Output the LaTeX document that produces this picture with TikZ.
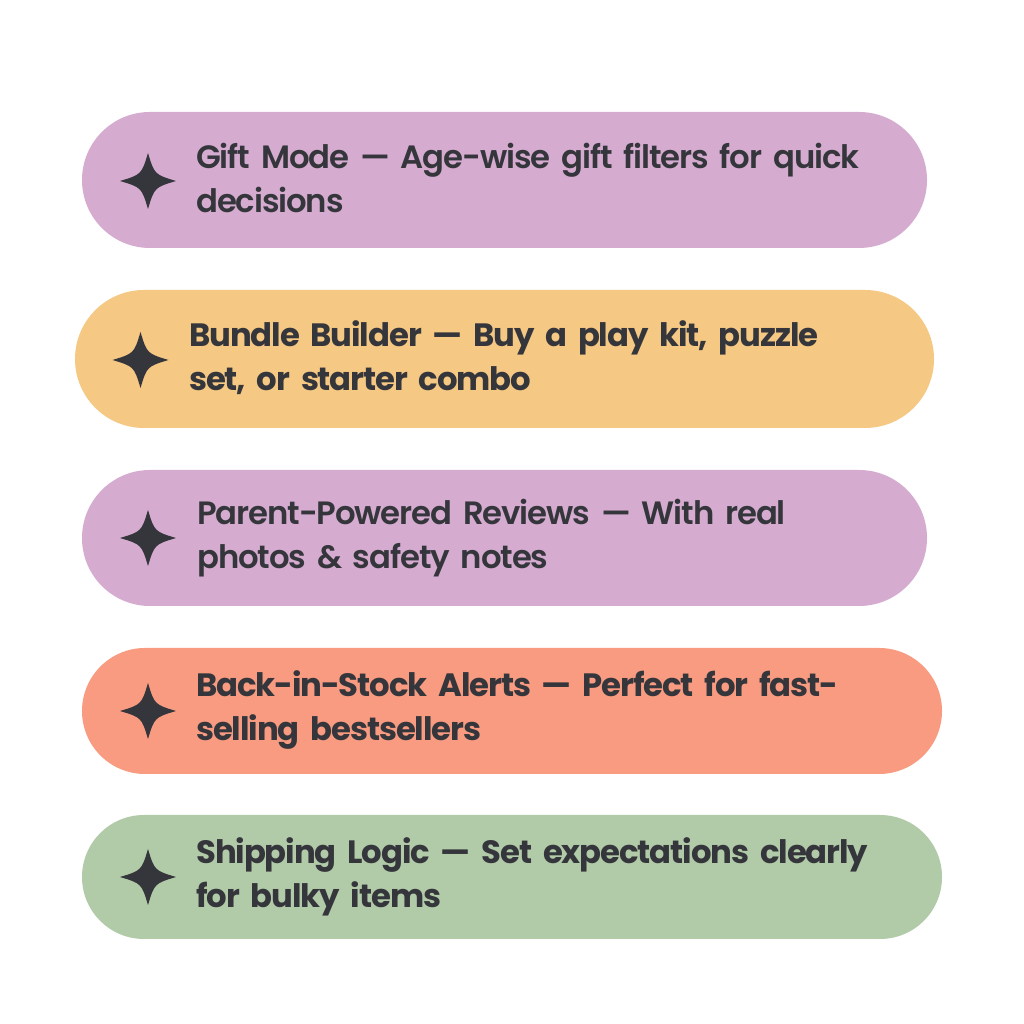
\documentclass[tikz,border=0pt]{standalone}
\usepackage{fontspec}
\setmainfont{Poppins}[UprightFont=* SemiBold, BoldFont=* Bold, LetterSpace=-3.4, WordSpace=0.8]
\usetikzlibrary{shapes.misc}
\definecolor{pillpurple}{HTML}{D5ABD0}
\definecolor{pillorange}{HTML}{F5C883}
\definecolor{pillsalmon}{HTML}{F89B80}
\definecolor{pillgreen}{HTML}{B1CAA7}
\definecolor{inkdark}{HTML}{35363C}
\tikzset{
  pill/.style={rounded rectangle, draw=none, inner sep=0pt},
  pilltext/.style={anchor=base west, inner sep=0pt, text width=760pt, align=left,
    text=inkdark, font=\fontsize{32.3}{44}\selectfont},
  boldtext/.style={pilltext, font=\fontsize{32.3}{44}\selectfont\bfseries},
  sparkle/.pic={\fill[inkdark] (0,28) .. controls (6.5,6.5) .. (28,0)
      .. controls (6.5,-6.5) .. (0,-28) .. controls (-6.5,-6.5) .. (-28,0)
      .. controls (-6.5,6.5) .. (0,28);}
}
\begin{document}
\begin{tikzpicture}[x=1pt,y=1pt]
\useasboundingbox[fill=white] (0,0) rectangle (1024,1024);
% pills
\node[pill, fill=pillpurple, minimum width=845pt, minimum height=136pt] (p1) at (504.5,844) {};
\node[pill, fill=pillorange, minimum width=859pt, minimum height=138pt] (p2) at (504.5,665) {};
\node[pill, fill=pillpurple, minimum width=845pt, minimum height=136pt] (p3) at (504.5,486) {};
\node[pill, fill=pillsalmon, minimum width=860pt, minimum height=126pt] (p4) at (512,313) {};
\node[pill, fill=pillgreen, minimum width=860pt, minimum height=124pt] (p5) at (512,147) {};
% stars
\pic at (148,843) {sparkle};
\pic at (140.5,664) {sparkle};
\pic at (148,486) {sparkle};
\pic at (148,313) {sparkle};
\pic at (148,147) {sparkle};
% texts
\node[pilltext] (t1) at (196,855) {Gift Mode — Age-wise gift filters for quick\\decisions};
\node[boldtext] (t2) at (189,677) {Bundle Builder — Buy a play kit, puzzle\\set, or starter combo};
\node[pilltext] (t3) at (197,499) {Parent-Powered Reviews — With real\\photos \& safety notes};
\node[boldtext] (t4) at (196,327) {Back-in-Stock Alerts — Perfect for fast-\\selling bestsellers};
\node[boldtext] (t5) at (196,160) {Shipping Logic — Set expectations clearly\\for bulky items};
\end{tikzpicture}
\end{document}
